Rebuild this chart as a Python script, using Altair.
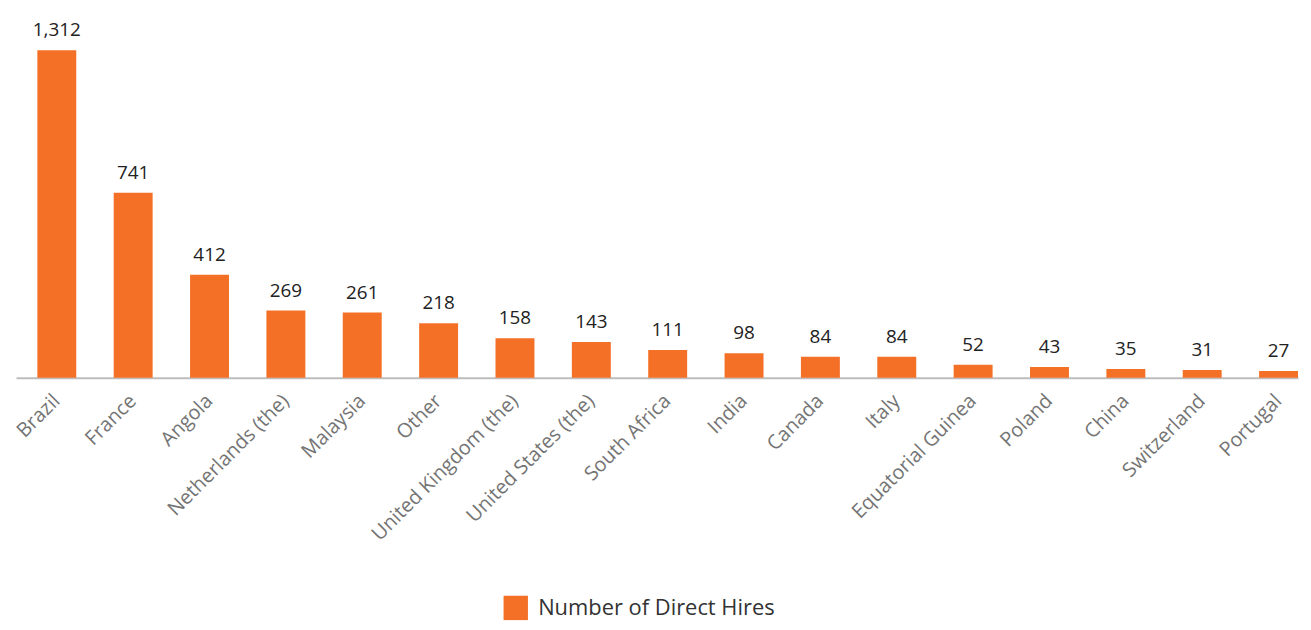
import altair as alt
import pandas as pd

countries = ["Brazil", "France", "Angola", "Netherlands (the)", "Malaysia", "Other",
             "United Kingdom (the)", "United States (the)", "South Africa", "India",
             "Canada", "Italy", "Equatorial Guinea", "Poland", "China", "Switzerland", "Portugal"]
hires = [1312, 741, 412, 269, 261, 218, 158, 143, 111, 98, 84, 84, 52, 43, 35, 31, 27]
series_name = "Number of Direct Hires"

df = pd.DataFrame({"country": countries, "hires": hires, "series": series_name})

FONT = "Open Sans"
ORANGE = "#F47027"

x = alt.X("country:N", sort=countries, title=None,
          scale=alt.Scale(paddingInner=0.49, paddingOuter=0.14, align=1),
          axis=alt.Axis(labelAngle=-45, labelAlign="right", labelBaseline="middle",
                        labelPadding=20, labelFontSize=20, labelColor="#747474",
                        labelFont=FONT, ticks=False, domainColor="#bdbdbd",
                        domainWidth=2, labelLimit=400, labelOverlap=False))
y = alt.Y("hires:Q", scale=alt.Scale(domain=[0, 1427], nice=False), axis=None)

bars = alt.Chart(df).mark_bar().encode(
    x=x, y=y,
    color=alt.Color("series:N", scale=alt.Scale(range=[ORANGE]),
                    legend=alt.Legend(title=None, orient="none", legendX=490, legendY=577,
                                      symbolType="square", symbolSize=600,
                                      symbolStrokeWidth=0, labelFontSize=22,
                                      labelFont=FONT, labelColor="#333333",
                                      labelOffset=10, labelLimit=500))
)

labels = alt.Chart(df).mark_text(baseline="bottom", dy=-10, fontSize=19, font=FONT,
                                 color="#222222").encode(
    x=alt.X("country:N", sort=countries),
    y="hires:Q",
    text=alt.Text("hires:Q", format=",")
)

chart = (bars + labels).properties(
    width=1289, height=358,
    autosize=alt.AutoSizeParams(type="none"),
    padding={"left": 8, "top": 12, "right": 5, "bottom": 244}
).configure_view(stroke=None)

chart.save("out.html", embed_options={"renderer": "svg", "actions": False})
